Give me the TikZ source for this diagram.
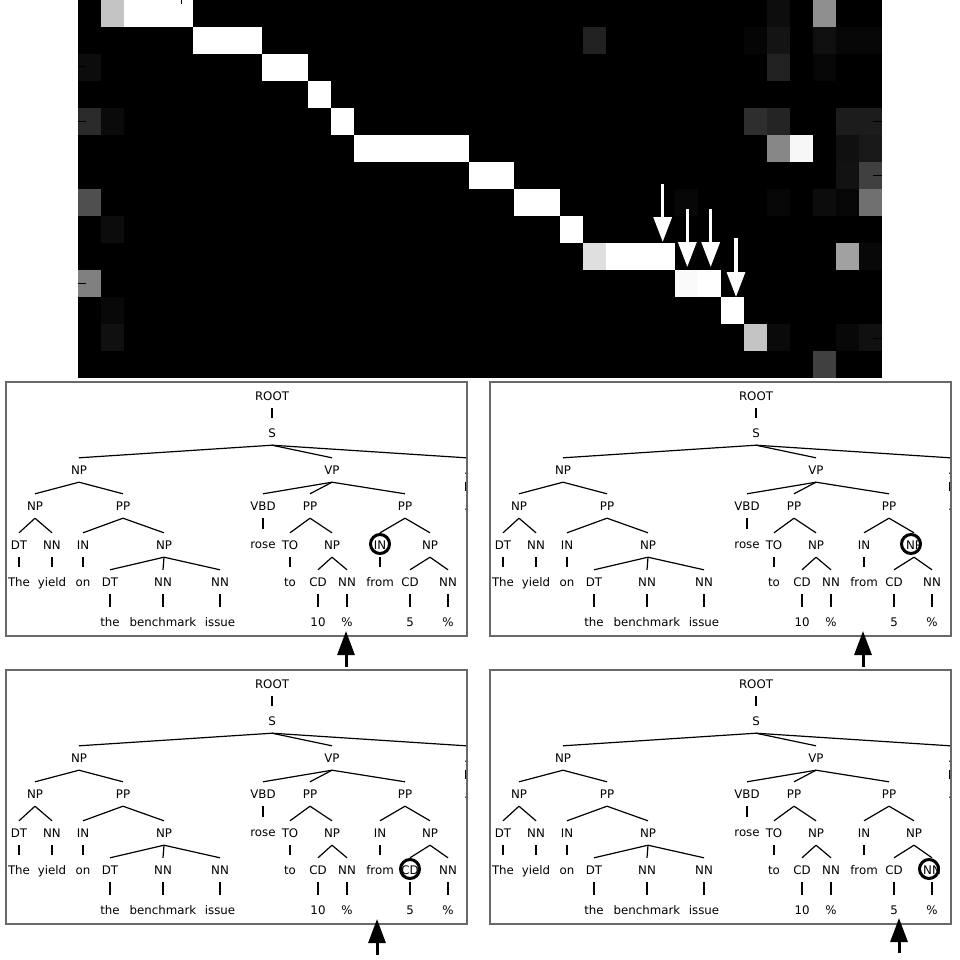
\documentclass[tikz,border=0pt]{standalone}
\usepackage{fontspec}
\newfontfamily\treefont{DejaVu Sans}
\usetikzlibrary{arrows.meta}
\definecolor{framegray}{gray}{0.41}
\tikzset{
  tl/.style={font=\treefont\fontsize{11.8}{13}\selectfont, text height=8.6pt, text depth=0pt, minimum height=24pt, inner ysep=0pt, inner xsep=0pt},
  treeedge/.style={line width=1.2pt},
  treetick/.style={line width=1.2pt, shorten >=3pt},
  framebox/.style={draw=framegray, line width=2.2pt},
  hilite/.style={circle, draw=black, line width=3pt, minimum size=19pt, inner sep=0pt},
  warr/.style={draw=white, line width=3.3pt, -{Triangle[length=25pt,width=18pt,fill=white]}},
  barr/.style={draw=black, line width=3pt, -{Triangle[length=24pt,width=17pt,fill=black]}}
}
\newcommand\hm[3]{\fill[white!#3!black] ({78+#1*22.9714},{#2*27}) rectangle ({78+(#1+1)*22.9714},{(#2+1)*27});}
\newcommand\hmr[4]{\fill[white!#4!black] ({78+#1*22.9714},{#3*27}) rectangle ({78+(#2+1)*22.9714},{(#3+1)*27});}
\newcommand\parsetree[1]{%
  \node[tl] (#1root) at (272,396) {ROOT};
  \node[tl] (#1s) at (272,433) {S};
  \node[tl] (#1np) at (79,470) {NP};
  \node[tl] (#1vp) at (332,470) {VP};
  \node[tl] (#1dotp) at (466,470) {.};
  \node[tl] (#1npa) at (35,506) {NP};
  \node[tl] (#1ppa) at (123,506) {PP};
  \node[tl] (#1vbd) at (263,506) {VBD};
  \node[tl] (#1ppb) at (310,506) {PP};
  \node[tl] (#1ppc) at (405,506) {PP};
  \node[tl] (#1dotw) at (466,506) {.};
  \node[tl] (#1dta) at (19,545) {DT};
  \node[tl] (#1nna) at (52,545) {NN};
  \node[tl] (#1ina) at (83,545) {IN};
  \node[tl] (#1npb) at (164,545) {NP};
  \node[tl] (#1rose) at (263,544) {rose};
  \node[tl] (#1tob) at (290,545) {TO};
  \node[tl] (#1npc) at (332,545) {NP};
  \node[tl] (#1inc) at (380,545) {IN};
  \node[tl] (#1npd) at (430,545) {NP};
  \node[tl] (#1the) at (19,582) {The};
  \node[tl] (#1yield) at (52,582) {yield};
  \node[tl] (#1on) at (83,582) {on};
  \node[tl] (#1dtb) at (110,582) {DT};
  \node[tl] (#1nnb) at (163,582) {NN};
  \node[tl] (#1nnc) at (220,582) {NN};
  \node[tl] (#1to) at (290,582) {to};
  \node[tl] (#1cda) at (318,582) {CD};
  \node[tl] (#1nnd) at (347,582) {NN};
  \node[tl] (#1from) at (380,582) {from};
  \node[tl] (#1cdb) at (410,582) {CD};
  \node[tl] (#1nne) at (448,582) {NN};
  \node[tl] (#1thea) at (110,622) {the};
  \node[tl] (#1bench) at (163,622) {benchmark};
  \node[tl] (#1issue) at (220,622) {issue};
  \node[tl] (#1ten) at (318,622) {10};
  \node[tl] (#1pcta) at (347,622) {\%};
  \node[tl] (#1five) at (410,622) {5};
  \node[tl] (#1pctb) at (448,622) {\%};
  \draw[treetick] (#1root.south) -- (#1s.north);
  \draw[treeedge] (#1s.south) -- (#1np.north);
  \draw[treeedge] (#1s.south) -- (#1vp.north);
  \draw[treeedge] (#1s.south) -- (#1dotp.north);
  \draw[treetick] (#1dotp.south) -- (#1dotw.north);
  \draw[treeedge] (#1np.south) -- (#1npa.north);
  \draw[treeedge] (#1np.south) -- (#1ppa.north);
  \draw[treeedge] (#1vp.south) -- (#1vbd.north);
  \draw[treeedge] (#1vp.south) -- (#1ppb.north);
  \draw[treeedge] (#1vp.south) -- (#1ppc.north);
  \draw[treeedge] (#1npa.south) -- (#1dta.north);
  \draw[treeedge] (#1npa.south) -- (#1nna.north);
  \draw[treeedge] (#1ppa.south) -- (#1ina.north);
  \draw[treeedge] (#1ppa.south) -- (#1npb.north);
  \draw[treetick] (#1vbd.south) -- (#1rose.north);
  \draw[treeedge] (#1ppb.south) -- (#1tob.north);
  \draw[treeedge] (#1ppb.south) -- (#1npc.north);
  \draw[treeedge] (#1ppc.south) -- (#1inc.north);
  \draw[treeedge] (#1ppc.south) -- (#1npd.north);
  \draw[treetick] (#1dta.south) -- (#1the.north);
  \draw[treetick] (#1nna.south) -- (#1yield.north);
  \draw[treetick] (#1ina.south) -- (#1on.north);
  \draw[treeedge] (#1npb.south) -- (#1dtb.north);
  \draw[treeedge] (#1npb.south) -- (#1nnb.north);
  \draw[treeedge] (#1npb.south) -- (#1nnc.north);
  \draw[treetick] (#1tob.south) -- (#1to.north);
  \draw[treeedge] (#1npc.south) -- (#1cda.north);
  \draw[treeedge] (#1npc.south) -- (#1nnd.north);
  \draw[treetick] (#1inc.south) -- (#1from.north);
  \draw[treeedge] (#1npd.south) -- (#1cdb.north);
  \draw[treeedge] (#1npd.south) -- (#1nne.north);
  \draw[treetick] (#1dtb.south) -- (#1thea.north);
  \draw[treetick] (#1nnb.south) -- (#1bench.north);
  \draw[treetick] (#1nnc.south) -- (#1issue.north);
  \draw[treetick] (#1cda.south) -- (#1ten.north);
  \draw[treetick] (#1nnd.south) -- (#1pcta.north);
  \draw[treetick] (#1cdb.south) -- (#1five.north);
  \draw[treetick] (#1nne.south) -- (#1pctb.north);
}
\newcommand\treepanel[1]{%
  \begin{scope}
    \clip (7,383) rectangle (466,635);
    \parsetree{#1}
  \end{scope}
  \draw[framebox] (6,382) rectangle (467,636);
}
\begin{document}
\begin{tikzpicture}[x=1pt,y=-1pt]
\useasboundingbox (0,0) rectangle (960,960);
\fill[white] (0,0) rectangle (960,960);
% ---------------- heat map ----------------
\fill[black] (78,0) rectangle (882,378);
% row 0
\hm{1}{0}{77}\hmr{2}{4}{0}{100}\hm{30}{0}{5}\hm{32}{0}{56}
% row 1
\hmr{5}{7}{1}{100}\hm{22}{1}{13}\hm{29}{1}{2}\hm{30}{1}{8}\hm{32}{1}{6}\hm{33}{1}{2.4}\hm{34}{1}{2.4}
% row 2
\hm{0}{2}{4.7}\hmr{8}{9}{2}{100}\hm{30}{2}{13}\hm{32}{2}{2.4}
% row 3
\hm{10}{3}{100}
% row 4
\hm{0}{4}{16.5}\hm{1}{4}{3.9}\hm{11}{4}{100}\hm{29}{4}{18}\hm{30}{4}{14}\hm{33}{4}{11}\hm{34}{4}{11}
% row 5
\hmr{12}{16}{5}{100}\hm{30}{5}{53}\hm{31}{5}{97}\hm{33}{5}{6.3}\hm{34}{5}{9.4}
% row 6
\hmr{17}{18}{6}{100}\hm{33}{6}{7}\hm{34}{6}{25}
% row 7
\hm{0}{7}{31}\hmr{19}{20}{7}{100}\hm{26}{7}{2.4}\hm{30}{7}{2.4}\hm{32}{7}{4.7}\hm{33}{7}{2.4}\hm{34}{7}{44}
% row 8
\hm{1}{8}{4.7}\hm{21}{8}{100}
% row 9
\hm{22}{9}{87.5}\hmr{23}{25}{9}{100}\hm{33}{9}{63}\hm{34}{9}{3.1}
% row 10
\hm{0}{10}{50}\hm{26}{10}{98}\hm{27}{10}{100}
% row 11
\hm{1}{11}{3.1}\hm{28}{11}{100}
% row 12
\hm{1}{12}{6.3}\hm{29}{12}{77}\hm{30}{12}{3.9}\hm{33}{12}{3.1}\hm{34}{12}{6.3}
% row 13
\hm{32}{13}{25}
% small axis ticks
\draw[black, line width=0.9pt] (181,0) -- (181,4);
\foreach \ty in {66,121,283} {\draw[black, line width=0.9pt] (78,\ty) -- (86,\ty);}
\foreach \ty in {121,175,338} {\draw[black, line width=0.9pt] (873,\ty) -- (882,\ty);}
% white arrows
\coordinate (wa1s) at (662.7,184); \coordinate (wa1e) at (662.7,242);
\coordinate (wa2s) at (687.3,209); \coordinate (wa2e) at (687.3,267);
\coordinate (wa3s) at (710.7,209); \coordinate (wa3e) at (710.7,267);
\coordinate (wa4s) at (736,238);   \coordinate (wa4e) at (736,297);
\draw[warr] (wa1s) -- (wa1e);
\draw[warr] (wa2s) -- (wa2e);
\draw[warr] (wa3s) -- (wa3e);
\draw[warr] (wa4s) -- (wa4e);
% ---------------- tree panels ----------------
\begin{scope}
  \treepanel{pa}
\end{scope}
\begin{scope}[shift={(484,0)}]
  \treepanel{pb}
\end{scope}
\begin{scope}[shift={(0,288)}]
  \treepanel{pc}
\end{scope}
\begin{scope}[shift={(484,288)}]
  \treepanel{pd}
\end{scope}
% highlight circles
\node[hilite] (ca) at ([yshift=1pt]painc) {};
\node[hilite] (cb) at ([xshift=-3pt,yshift=1pt]pbnpd) {};
\node[hilite] (cc) at ([yshift=1pt]pccdb) {};
\node[hilite] (cd) at ([xshift=-3pt,yshift=1pt]pdnne) {};
% black arrows
\coordinate (ba1s) at (346,667); \coordinate (ba1e) at (346,631);
\coordinate (ba2s) at (863,667); \coordinate (ba2e) at (863,631);
\coordinate (ba3s) at (377,955); \coordinate (ba3e) at (377,919);
\coordinate (ba4s) at (899,953); \coordinate (ba4e) at (899,918);
\draw[barr] (ba1s) -- (ba1e);
\draw[barr] (ba2s) -- (ba2e);
\draw[barr] (ba3s) -- (ba3e);
\draw[barr] (ba4s) -- (ba4e);
\end{tikzpicture}
\end{document}
